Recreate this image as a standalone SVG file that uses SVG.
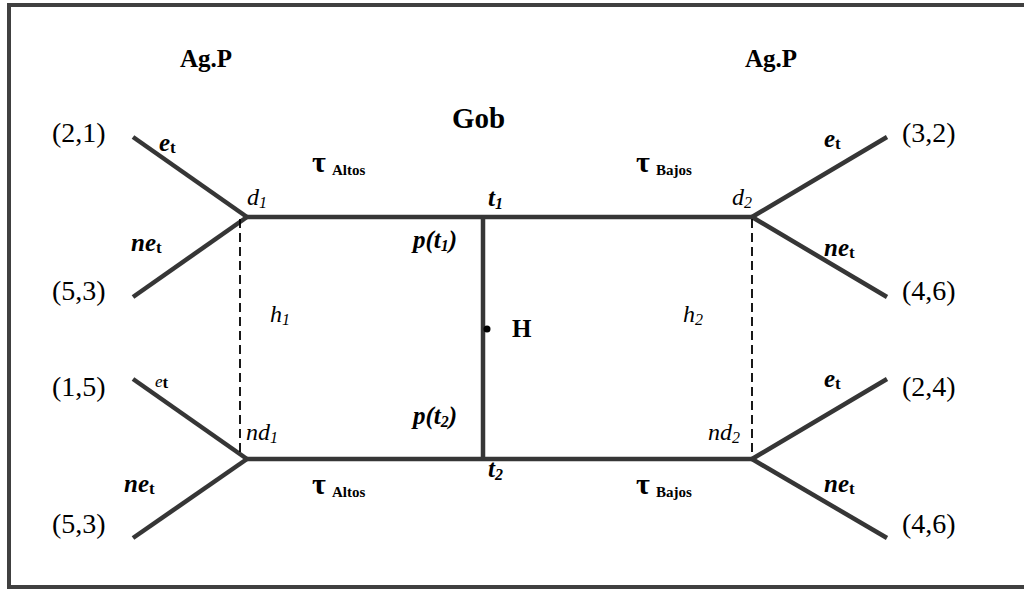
<svg xmlns="http://www.w3.org/2000/svg" width="1024" height="589" viewBox="0 0 1024 589">
<style>
text{font-family:"Liberation Serif","Times New Roman",serif;fill:#000}
.b{font-weight:bold}
.i{font-style:italic}
.pay{font-size:28px}
.ag{font-size:25px;font-weight:bold}
.edge{stroke:#363636;stroke-width:4.5;fill:none;stroke-linecap:butt}
.dash{stroke:#000;stroke-width:1.8;stroke-dasharray:9,5;fill:none}
.lbl{font-size:25px;font-weight:bold;font-style:italic}
.sub{font-size:17px;font-weight:bold;font-style:normal}
.node{font-size:24px;font-style:italic}
.nsub{font-size:16px;font-style:italic}
.tau{font-size:30px;font-weight:bold}
.tsub{font-size:15px;font-weight:bold}
</style>
<rect x="9" y="5" width="1030" height="582" fill="#fff" stroke="#404040" stroke-width="4"/>
<g id="connectors">
<line class="edge" x1="133" y1="137" x2="247" y2="217"/>
<line class="edge" x1="133" y1="297" x2="247" y2="217"/>
<line class="edge" x1="133" y1="379" x2="247" y2="459"/>
<line class="edge" x1="133" y1="538" x2="247" y2="459"/>
<line class="edge" x1="245" y1="217" x2="754" y2="217"/>
<line class="edge" x1="245" y1="459" x2="754" y2="459"/>
<line class="edge" x1="483" y1="217" x2="483" y2="459"/>
<line class="edge" x1="887" y1="137" x2="752" y2="217"/>
<line class="edge" x1="887" y1="297" x2="752" y2="217"/>
<line class="edge" x1="887" y1="379" x2="752" y2="459"/>
<line class="edge" x1="887" y1="538" x2="752" y2="459"/>
<line class="dash" x1="240" y1="219" x2="240" y2="457"/>
<line class="dash" x1="752" y1="219" x2="752" y2="457"/>
</g>
<g id="players">
<text class="ag" x="180" y="67">Ag.P</text>
<text class="ag" x="745" y="67">Ag.P</text>
<text class="b" x="452" y="128" font-size="29">Gob</text>
</g>
<g id="payoffs">
<text class="pay" x="52" y="142">(2,1)</text>
<text class="pay" x="52" y="300">(5,3)</text>
<text class="pay" x="52" y="396">(1,5)</text>
<text class="pay" x="52" y="533">(5,3)</text>
<text class="pay" x="902" y="142">(3,2)</text>
<text class="pay" x="902" y="300">(4,6)</text>
<text class="pay" x="902" y="396">(2,4)</text>
<text class="pay" x="902" y="533">(4,6)</text>
</g>
<g id="actions">
<text class="lbl" x="159" y="151">e<tspan class="sub" dy="2">t</tspan></text>
<text class="lbl" x="131" y="251">ne<tspan class="sub" dy="2">t</tspan></text>
<text x="155" y="387" font-size="17" font-style="italic">e<tspan class="sub" dy="1">t</tspan></text>
<text class="lbl" x="124" y="492">ne<tspan class="sub" dy="2">t</tspan></text>
<text class="lbl" x="824" y="147">e<tspan class="sub" dy="2">t</tspan></text>
<text class="lbl" x="824" y="256">ne<tspan class="sub" dy="2">t</tspan></text>
<text class="lbl" x="824" y="387">e<tspan class="sub" dy="2">t</tspan></text>
<text class="lbl" x="824" y="492">ne<tspan class="sub" dy="2">t</tspan></text>
</g>
<g id="d1"><text class="node" x="247" y="205">d<tspan class="nsub" dy="3">1</tspan></text></g>
<g id="nd1"><text class="node" x="246" y="440">nd<tspan class="nsub" dy="3">1</tspan></text></g>
<g id="h1"><text class="node" x="270" y="322">h<tspan class="nsub" dy="3">1</tspan></text></g>
<g id="d2"><text class="node" x="732" y="205">d<tspan class="nsub" dy="3">2</tspan></text></g>
<g id="nd2"><text class="node" x="708" y="440">nd<tspan class="nsub" dy="3">2</tspan></text></g>
<g id="h2"><text class="node" x="683" y="322">h<tspan class="nsub" dy="3">2</tspan></text></g>
<g id="t1"><text class="lbl" x="488" y="206" font-size="24">t<tspan class="nsub" font-weight="bold" dy="3">1</tspan></text></g>
<g id="t2"><text class="lbl" x="488" y="477" font-size="24">t<tspan class="nsub" font-weight="bold" dy="3">2</tspan></text></g>
<g id="pt1"><text class="lbl" x="413" y="248" font-size="23">p(t<tspan class="nsub" dy="3">1</tspan><tspan dy="-3">)</tspan></text></g>
<g id="pt2"><text class="lbl" x="413" y="424" font-size="23">p(t<tspan class="nsub" dy="3">2</tspan><tspan dy="-3">)</tspan></text></g>
<g id="H">
<circle cx="487" cy="329" r="3.5" fill="#000"/>
<text class="b" x="512" y="337" font-size="25">H</text>
</g>
<g id="taxes">
<text class="tau" x="312" y="172">τ<tspan class="tsub" x="332" dy="3">Altos</tspan></text>
<text class="tau" x="636" y="172">τ<tspan class="tsub" x="656" dy="3">Bajos</tspan></text>
<text class="tau" x="312" y="494">τ<tspan class="tsub" x="332" dy="3">Altos</tspan></text>
<text class="tau" x="636" y="494">τ<tspan class="tsub" x="656" dy="3">Bajos</tspan></text>
</g>
</svg>
